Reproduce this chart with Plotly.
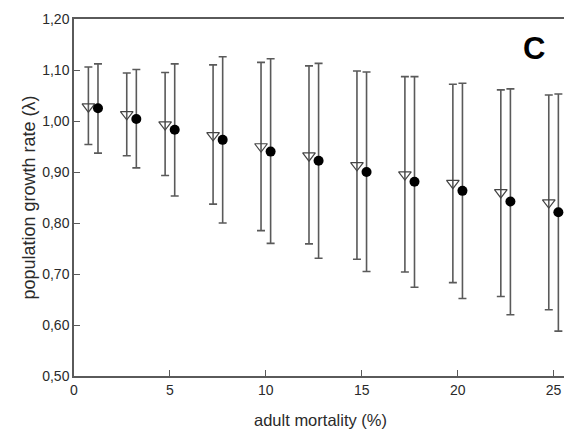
import plotly.graph_objects as go

groups = [1, 3, 5, 7.5, 10, 12.5, 15, 17.5, 20, 22.5, 25]
tri_val = [1.028, 1.013, 0.993, 0.972, 0.950, 0.932, 0.913, 0.895, 0.878, 0.860, 0.840]
tri_hi = [1.106, 1.094, 1.095, 1.110, 1.115, 1.108, 1.098, 1.087, 1.072, 1.061, 1.051]
tri_lo = [0.954, 0.932, 0.893, 0.837, 0.785, 0.759, 0.729, 0.704, 0.683, 0.656, 0.630]
dot_val = [1.025, 1.004, 0.983, 0.963, 0.940, 0.922, 0.900, 0.881, 0.863, 0.842, 0.821]
dot_hi = [1.112, 1.101, 1.112, 1.126, 1.122, 1.113, 1.096, 1.087, 1.074, 1.063, 1.053]
dot_lo = [0.937, 0.908, 0.853, 0.800, 0.760, 0.731, 0.705, 0.674, 0.652, 0.620, 0.588]
y_ticks = [0.5, 0.6, 0.7, 0.8, 0.9, 1.0, 1.1, 1.2]
y_tick_labels = ["0,50", "0,60", "0,70", "0,80", "0,90", "1,00", "1,10", "1,20"]
x_ticks = [0, 5, 10, 15, 20, 25]

offset = 0.25
grey = "#5a5a5a"
fam = "Liberation Sans, Arial, sans-serif"

fig = go.Figure()
fig.add_trace(go.Scatter(
    x=[g - offset for g in groups], y=tri_val, mode="markers",
    marker=dict(symbol="triangle-down-open", size=11, color="#444", line=dict(width=1.2)),
    error_y=dict(type="data", symmetric=False,
                 array=[h - v for h, v in zip(tri_hi, tri_val)],
                 arrayminus=[v - l for l, v in zip(tri_lo, tri_val)],
                 color=grey, thickness=1.6, width=4),
    showlegend=False))
fig.add_trace(go.Scatter(
    x=[g + offset for g in groups], y=dot_val, mode="markers",
    marker=dict(symbol="circle", size=10, color="black"),
    error_y=dict(type="data", symmetric=False,
                 array=[h - v for h, v in zip(dot_hi, dot_val)],
                 arrayminus=[v - l for l, v in zip(dot_lo, dot_val)],
                 color=grey, thickness=1.6, width=4),
    showlegend=False))

fig.add_annotation(x=0.959, y=0.916, xref="paper", yref="paper", text="<b>C</b>",
                   showarrow=False, xanchor="right", yanchor="middle",
                   font=dict(size=31, color="black", family=fam))

fig.update_layout(
    width=564, height=427,
    margin=dict(l=66, r=3, t=8, b=59),
    plot_bgcolor="white", paper_bgcolor="white",
    font=dict(family=fam, size=14, color="#2a2a2a"),
    xaxis=dict(range=[0, 25.7], tickvals=x_ticks, ticks="inside", ticklen=6, tickcolor=grey,
               showline=True, linecolor=grey, linewidth=1.5, mirror=True, showgrid=False,
               zeroline=False, ticklabeloverflow="allow",
               title=dict(text="adult mortality (%)", standoff=18, font=dict(size=16.5)),
               tickfont=dict(size=14)),
    yaxis=dict(range=[0.5, 1.2], tickvals=y_ticks, ticktext=y_tick_labels, ticks="inside",
               ticklen=6, tickcolor=grey, showline=True, linecolor=grey, linewidth=1.5,
               mirror=True, showgrid=False, zeroline=False, ticklabeloverflow="allow",
               title=dict(text="population growth rate (λ)", standoff=2, font=dict(size=18)),
               tickfont=dict(size=14)),
)

fig.write_html("out.html")
